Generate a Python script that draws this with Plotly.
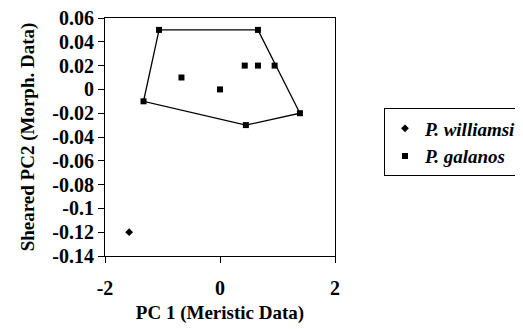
import plotly.graph_objects as go

# Data
williamsi_x = [-1.58]
williamsi_y = [-0.12]
galanos_x = [-1.06, 0.66, 0.43, 0.66, 0.95, -0.67, 0.0, -1.33, 1.39, 0.45]
galanos_y = [0.05, 0.05, 0.02, 0.02, 0.02, 0.01, 0.0, -0.01, -0.02, -0.03]
hull_x = [-1.06, 0.66, 1.39, 0.45, -1.33, -1.06]
hull_y = [0.05, 0.05, -0.02, -0.03, -0.01, 0.05]
x_tick_vals = [-2, 0, 2]
x_tick_text = ["-2", "0", "2"]
y_tick_vals = [0.06, 0.04, 0.02, 0, -0.02, -0.04, -0.06, -0.08, -0.1, -0.12, -0.14]
y_tick_text = ["0.06", "0.04", "0.02", "0", "-0.02", "-0.04", "-0.06", "-0.08", "-0.1", "-0.12", "-0.14"]

FONT = "Liberation Serif"

fig = go.Figure()
fig.add_trace(go.Scatter(x=hull_x, y=hull_y, mode="lines",
                         line=dict(color="black", width=1.3),
                         showlegend=False, hoverinfo="skip"))
fig.add_trace(go.Scatter(x=williamsi_x, y=williamsi_y, mode="markers",
                         name="<i>P. williamsi</i>",
                         marker=dict(symbol="diamond", size=6, color="black")))
fig.add_trace(go.Scatter(x=galanos_x, y=galanos_y, mode="markers",
                         name="<i>P. galanos</i>",
                         marker=dict(symbol="square", size=6, color="black")))

tickf = dict(family=FONT, size=20, color="black", weight="bold")
titlef = dict(family=FONT, size=19, color="black", weight="bold")

fig.update_layout(
    width=523, height=329,
    margin=dict(l=97, r=196, t=10, b=81, autoexpand=False),
    paper_bgcolor="white", plot_bgcolor="white",
    font=dict(family=FONT, color="black", size=14),
    showlegend=True,
    legend=dict(x=1.213, y=0.62, xanchor="left", yanchor="top",
                bordercolor="black", borderwidth=1,
                font=dict(family=FONT, size=19, color="black", weight="bold"),
                itemwidth=30, tracegroupgap=0),
    xaxis=dict(range=[-2, 2], tickvals=x_tick_vals, ticktext=x_tick_text,
               showgrid=False, zeroline=False, showline=True, linecolor="black",
               linewidth=1, mirror=True, ticks="outside", ticklen=6,
               tickcolor="black", tickfont=tickf, automargin=False,
               ticklabelstandoff=8, ticklabeloverflow="allow",
               title=dict(text="PC 1 (Meristic Data)", font=titlef, standoff=7)),
    yaxis=dict(range=[-0.14, 0.06], tickvals=y_tick_vals, ticktext=y_tick_text,
               showgrid=False, zeroline=False, showline=True, linecolor="black",
               linewidth=1, mirror=True, ticks="outside", ticklen=6,
               tickcolor="black", tickfont=tickf, automargin=False,
               ticklabeloverflow="allow",
               title=dict(text="Sheared PC2 (Morph. Data)", font=titlef, standoff=12)),
)

fig.write_html("out.html")
